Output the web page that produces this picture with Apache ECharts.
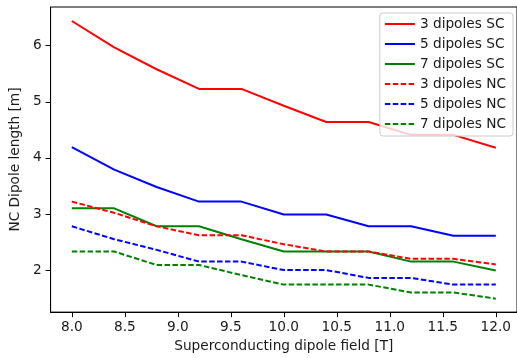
<!DOCTYPE html>
<html>
<head>
<meta charset="utf-8">
<script src="https://cdn.jsdelivr.net/npm/echarts@6/dist/echarts.min.js"></script>
<style>html,body{margin:0;padding:0;background:#fff}#c{width:517px;height:358px}</style>
</head>
<body>
<div id="c"></div>
<script>
const fieldT = [8.0, 8.4, 8.8, 9.2, 9.6, 10.0, 10.4, 10.8, 11.2, 11.6, 12.0];
const sc3 = [6.44, 5.97, 5.58, 5.23, 5.23, 4.93, 4.64, 4.64, 4.41, 4.41, 4.18];
const sc5 = [4.19, 3.79, 3.48, 3.22, 3.22, 2.99, 2.99, 2.78, 2.78, 2.61, 2.61];
const sc7 = [3.10, 3.10, 2.78, 2.78, 2.55, 2.33, 2.33, 2.33, 2.15, 2.15, 1.99];
const nc3 = [3.22, 3.02, 2.78, 2.62, 2.62, 2.46, 2.33, 2.33, 2.20, 2.20, 2.10];
const nc5 = [2.78, 2.55, 2.36, 2.15, 2.15, 2.00, 2.00, 1.86, 1.86, 1.74, 1.74];
const nc7 = [2.33, 2.33, 2.09, 2.09, 1.91, 1.74, 1.74, 1.74, 1.60, 1.60, 1.49];
const xTicks = [8.0, 8.5, 9.0, 9.5, 10.0, 10.5, 11.0, 11.5, 12.0];
const yTicks = [2, 3, 4, 5, 6];
const names = ['3 dipoles SC', '5 dipoles SC', '7 dipoles SC', '3 dipoles NC', '5 dipoles NC', '7 dipoles NC'];

const FONT = 'DejaVu Sans';
const FS = 13.7;
const TXT = '#1a1a1a';
const pairs = arr => fieldT.map((x, i) => [x, arr[i]]);
const mk = (name, arr, color, dashed) => ({
  name, type: 'line', data: pairs(arr), symbol: 'none', showSymbol: false,
  lineStyle: { color, width: 2, type: dashed ? [5.5, 2.4] : 'solid' },
  itemStyle: { color }, animation: false
});

const chart = echarts.init(document.getElementById('c'), null, { renderer: 'canvas' });
chart.setOption({
  animation: false,
  backgroundColor: '#fff',
  grid: { left: 50, top: 7, width: 469, bottom: 45, show: true, borderColor: '#000', borderWidth: 1 },
  xAxis: {
    type: 'value', min: 7.8, max: 12.2,
    name: 'Superconducting dipole field [T]', nameLocation: 'middle', nameGap: 21,
    nameTextStyle: { fontFamily: FONT, fontSize: FS, color: TXT },
    axisLine: { show: true, lineStyle: { color: '#000', width: 1 } },
    axisTick: { show: true, customValues: xTicks, length: 5, lineStyle: { color: '#000', width: 1 } },
    axisLabel: { customValues: xTicks, margin: 8, fontFamily: FONT, fontSize: FS, color: TXT, formatter: v => Number(v).toFixed(1) },
    splitLine: { show: false }
  },
  yAxis: {
    type: 'value', min: 1.25, max: 6.69,
    name: 'NC Dipole length [m]', nameLocation: 'middle', nameGap: 22, nameRotate: 90,
    nameTextStyle: { fontFamily: FONT, fontSize: FS, color: TXT },
    axisLine: { show: true, lineStyle: { color: '#000', width: 1 } },
    axisTick: { show: true, customValues: yTicks, length: 5, lineStyle: { color: '#000', width: 1 } },
    axisLabel: { customValues: yTicks, margin: 9, fontFamily: FONT, fontSize: FS, color: TXT, formatter: v => String(Math.round(v)) },
    splitLine: { show: false }
  },
  legend: {
    data: names, orient: 'vertical', right: 4, top: 13,
    itemWidth: 30, itemHeight: 14, itemGap: 6,
    padding: [4, 7, 5, 4],
    itemStyle: { opacity: 0 },
    backgroundColor: 'rgba(255,255,255,0.8)', borderColor: '#cccccc', borderWidth: 1, borderRadius: 3,
    textStyle: { fontFamily: FONT, fontSize: FS, color: TXT, lineHeight: 14 },
    z: 10
  },
  series: [
    mk(names[0], sc3, '#ff0000', false),
    mk(names[1], sc5, '#0000ff', false),
    mk(names[2], sc7, '#008000', false),
    mk(names[3], nc3, '#ff0000', true),
    mk(names[4], nc5, '#0000ff', true),
    mk(names[5], nc7, '#008000', true)
  ]
});
</script>
</body>
</html>
